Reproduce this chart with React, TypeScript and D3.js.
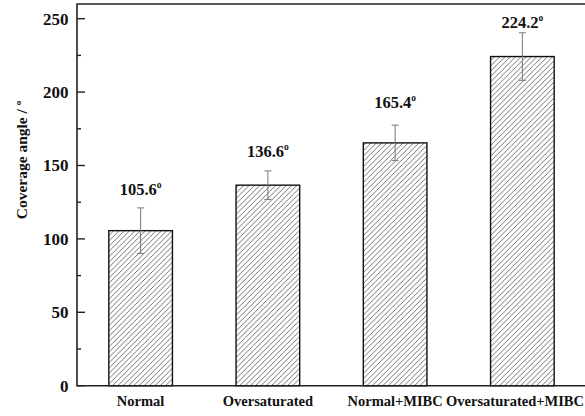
import { useEffect, useRef } from 'react';
import * as d3 from 'd3';

const categories = ['Normal', 'Oversaturated', 'Normal+MIBC', 'Oversaturated+MIBC'];
const angles = [105.6, 136.6, 165.4, 224.2];
const errors = [15.5, 9.7, 12.1, 16.2];
// value at which each label baseline sits
const labelAt = [130, 156, 189, 243.5];
const yTicks = [0, 50, 100, 150, 200, 250];
const yMinorTicks = [25, 75, 125, 175, 225];

const W = 585;
const H = 416;
const FONT = '"Liberation Serif", "Times New Roman", serif';

export default function App() {
  const ref = useRef<SVGSVGElement>(null);

  useEffect(() => {
    const svg = d3.select(ref.current);
    svg.selectAll('*').remove();

    const left = 77;
    const right = 586;
    const top = 4;
    const bottom = 385.7;

    const x = d3.scaleBand<string>()
      .domain(categories)
      .range([left, right])
      .paddingInner(0.5)
      .paddingOuter(0.25);

    const y = d3.scaleLinear().domain([0, 260]).range([bottom, top]);

    // hatch pattern
    const w = 5.3;
    svg.append('defs')
      .append('pattern')
      .attr('id', 'hatch')
      .attr('patternUnits', 'userSpaceOnUse')
      .attr('width', w)
      .attr('height', w)
      .append('path')
      .attr('d', `M-1,1 l2,-2 M0,${w} l${w},${-w} M${w - 1},${w + 1} l2,-2`)
      .attr('stroke', '#444')
      .attr('stroke-width', 0.75);

    // bars
    svg.selectAll('.bar')
      .data(angles)
      .enter().append('rect')
      .attr('x', (d, i) => x(categories[i])!)
      .attr('y', d => y(d))
      .attr('width', x.bandwidth())
      .attr('height', d => bottom - y(d))
      .attr('fill', 'url(#hatch)')
      .attr('stroke', '#111')
      .attr('stroke-width', 1.4);

    // error bars
    const eg = svg.append('g').attr('stroke', '#777').attr('stroke-width', 1);
    angles.forEach((v, i) => {
      const cx = x(categories[i])! + x.bandwidth() / 2;
      const y1 = y(v + errors[i]);
      const y2 = y(v - errors[i]);
      eg.append('line').attr('x1', cx).attr('x2', cx).attr('y1', y1).attr('y2', y2);
      eg.append('line').attr('x1', cx - 3.5).attr('x2', cx + 3.5).attr('y1', y1).attr('y2', y1);
      eg.append('line').attr('x1', cx - 3.5).attr('x2', cx + 3.5).attr('y1', y2).attr('y2', y2);
    });

    // value labels
    angles.forEach((v, i) => {
      const cx = x(categories[i])! + x.bandwidth() / 2;
      const t = svg.append('text')
        .attr('x', cx)
        .attr('y', y(labelAt[i]))
        .attr('text-anchor', 'middle')
        .style('font-family', FONT)
        .style('font-weight', 'bold')
        .style('font-size', '16.5px')
        .attr('fill', '#111');
      t.append('tspan').text(v.toFixed(1));
      t.append('tspan').attr('dy', -7).style('font-size', '9.5px').text('o');
    });

    // frame
    svg.append('path')
      .attr('d', `M${left},${bottom} L${left},${top} L${right},${top} L${right},${bottom} Z`)
      .attr('fill', 'none')
      .attr('stroke', '#222')
      .attr('stroke-width', 1.6);

    // y ticks (inward)
    const ag = svg.append('g').attr('stroke', '#222').attr('stroke-width', 1.4);
    yTicks.forEach(t => {
      ag.append('line').attr('x1', left).attr('x2', left + 8).attr('y1', y(t)).attr('y2', y(t));
    });
    yMinorTicks.forEach(t => {
      ag.append('line').attr('x1', left).attr('x2', left + 4).attr('y1', y(t)).attr('y2', y(t));
    });

    svg.selectAll('.ylab')
      .data(yTicks)
      .enter().append('text')
      .attr('x', left - 8.5)
      .attr('y', d => y(d))
      .attr('dy', '0.35em')
      .attr('text-anchor', 'end')
      .style('font-family', FONT)
      .style('font-weight', 'bold')
      .style('font-size', '17px')
      .attr('fill', '#111')
      .text(d => d);

    // category labels (last one kept inside the picture's right edge)
    svg.selectAll('.xlab')
      .data(categories)
      .enter().append('text')
      .attr('x', (d, i) => i === categories.length - 1 ? W - 1 : x(d)! + x.bandwidth() / 2)
      .attr('y', 406)
      .attr('text-anchor', (d, i) => i === categories.length - 1 ? 'end' : 'middle')
      .style('font-family', FONT)
      .style('font-weight', 'bold')
      .style('font-size', '14.5px')
      .attr('fill', '#111')
      .text(d => d);

    // axis title
    const title = svg.append('text')
      .attr('transform', 'translate(27,160) rotate(-90)')
      .attr('text-anchor', 'middle')
      .style('font-family', FONT)
      .style('font-weight', 'bold')
      .style('font-size', '15.5px')
      .attr('fill', '#111');
    title.append('tspan').text('Coverage angle / ');
    title.append('tspan').attr('dy', -6).style('font-size', '9px').text('o');
  }, []);

  return (
    <svg
      ref={ref}
      width={W}
      height={H}
      style={{ position: 'absolute', left: 0, top: 0, background: '#fff' }}
    />
  );
}
